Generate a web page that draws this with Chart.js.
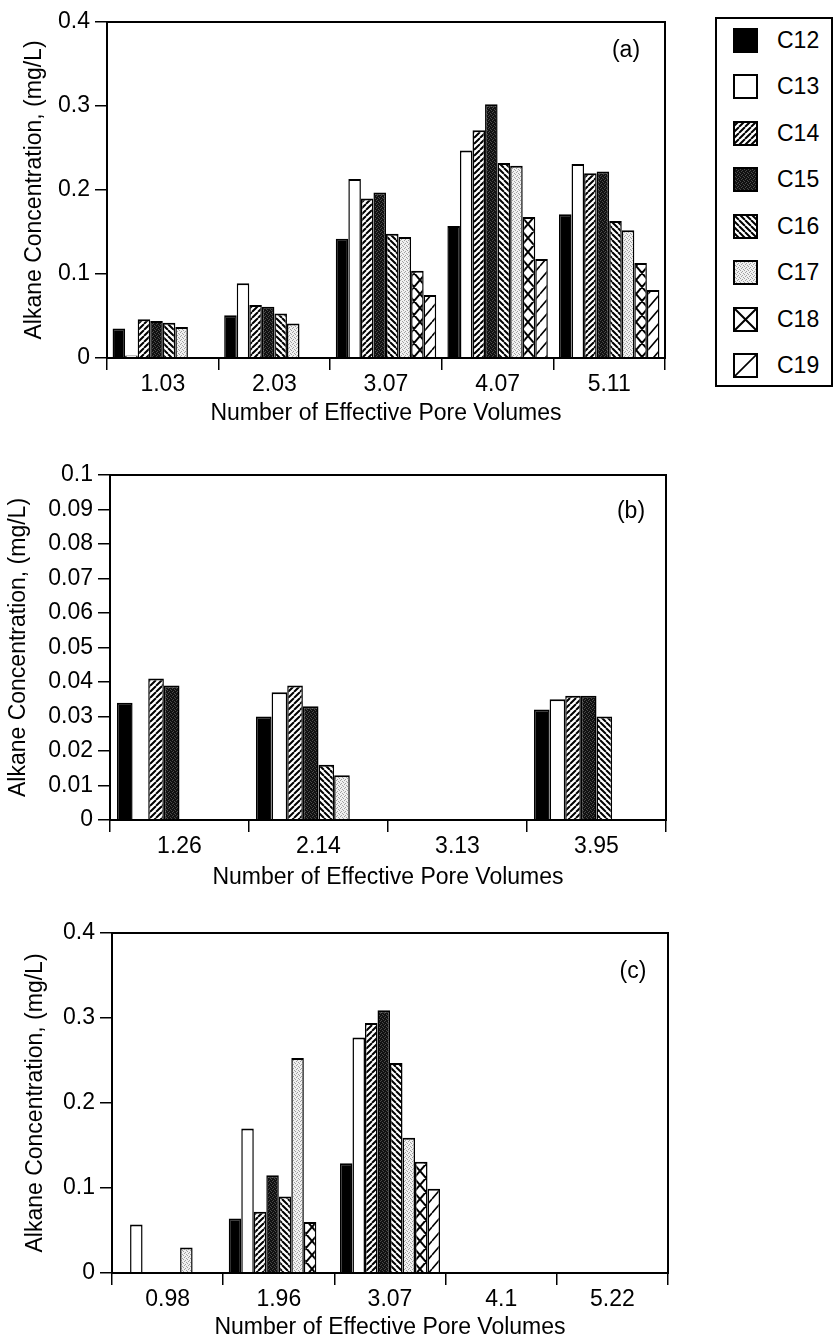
<!DOCTYPE html>
<html>
<head>
<meta charset="utf-8">
<title>Alkane concentration vs. effective pore volumes</title>
<script src="https://cdn.jsdelivr.net/npm/chart.js@4.4.1/dist/chart.umd.min.js"></script>
<style>
  html, body { margin: 0; padding: 0; background: #fff; }
  #page { position: relative; width: 836px; height: 1341px; overflow: hidden; }
  canvas.panel { position: absolute; left: 0; }
  #legend {
    position: absolute; left: 715px; top: 17px; width: 114px; height: 366px;
    border: 2px solid #000;
    font: 23px "Liberation Sans", Arial, Helvetica, sans-serif; color: #000;
  }
  #legend .item { position: absolute; left: 16px; height: 25px; width: 95px; }
  #legend .item canvas { position: absolute; left: 0; top: 0; }
  #legend .item span { position: absolute; left: 44px; top: 0; line-height: 25px; }
</style>
</head>
<body>
<div id="page">
  <canvas id="panelA" class="panel" width="690" height="431" style="top:0px"></canvas>
  <canvas id="panelB" class="panel" width="690" height="455" style="top:440px"></canvas>
  <canvas id="panelC" class="panel" width="690" height="436" style="top:905px"></canvas>
  <div id="legend"></div>
</div>
<script>
const seriesNames = ['C12', 'C13', 'C14', 'C15', 'C16', 'C17', 'C18', 'C19'];

// (a) concentrations (mg/L) at each pore volume
const poreVolumesA = ['1.03', '2.03', '3.07', '4.07', '5.11'];
const aC12 = [0.035, 0.051, 0.142, 0.157, 0.171];
const aC13 = [0.003, 0.089, 0.213, 0.247, 0.231];
const aC14 = [0.046, 0.063, 0.190, 0.271, 0.220];
const aC15 = [0.044, 0.061, 0.197, 0.302, 0.222];
const aC16 = [0.042, 0.053, 0.148, 0.232, 0.163];
const aC17 = [0.037, 0.041, 0.144, 0.229, 0.152];
const aC18 = [null, null, 0.104, 0.168, 0.113];
const aC19 = [null, null, 0.075, 0.118, 0.081];

// (b)
const poreVolumesB = ['1.26', '2.14', '3.13', '3.95'];
const bC12 = [0.034, 0.030, null, 0.032];
const bC13 = [null, 0.037, null, 0.035];
const bC14 = [0.041, 0.039, null, 0.036];
const bC15 = [0.039, 0.033, null, 0.036];
const bC16 = [null, 0.016, null, 0.030];
const bC17 = [null, 0.013, null, null];
const bC18 = [null, null, null, null];
const bC19 = [null, null, null, null];

// (c)
const poreVolumesC = ['0.98', '1.96', '3.07', '4.1', '5.22'];
const cC12 = [null, 0.064, 0.129, null, null];
const cC13 = [0.057, 0.170, 0.277, null, null];
const cC14 = [null, 0.072, 0.294, null, null];
const cC15 = [null, 0.115, 0.309, null, null];
const cC16 = [null, 0.090, 0.247, null, null];
const cC17 = [0.030, 0.253, 0.159, null, null];
const cC18 = [null, 0.060, 0.131, null, null];
const cC19 = [null, null, 0.099, null, null];

const FONT = '"Liberation Sans", Arial, Helvetica, sans-serif';
const FONT_SIZE = 23;
Chart.defaults.font.family = FONT;
Chart.defaults.font.size = FONT_SIZE;
Chart.defaults.color = '#000';

// fill style per alkane, in the order of seriesNames
const fillKinds = ['solid', 'open', 'fineUp', 'darkDots', 'fineDown', 'lightDots', 'cross', 'wideUp'];

function tile(w, h, paint) {
  const c = document.createElement('canvas');
  c.width = w; c.height = h;
  const g = c.getContext('2d');
  paint(g, w, h);
  return g.createPattern(c, 'repeat');
}

// diagonal strokes with wrap-around copies so the tile repeats cleanly
function diag(g, w, h, dir) {
  for (let k = -1; k <= 1; k++) {
    const ox = k * w;
    if (dir > 0) { g.moveTo(ox, h); g.lineTo(ox + w, 0); }
    else { g.moveTo(ox, 0); g.lineTo(ox + w, h); }
  }
}

function dots(bg, fg, pts) {
  return tile(4, 4, (g) => {
    g.fillStyle = bg; g.fillRect(0, 0, 4, 4);
    g.fillStyle = fg;
    pts.forEach(p => g.fillRect(p[0], p[1], 1, 1));
  });
}

function makeFill(kind, big) {
  switch (kind) {
    case 'solid': return '#000';
    case 'open': return '#fff';
    case 'darkDots': return dots('#111', '#4a4a4a', [[0, 0], [2, 1], [1, 3], [3, 2]]);
    case 'lightDots': return dots('#f0f0f0', '#a0a0a0', [[0, 0], [2, 1], [1, 3], [3, 2]]);
    case 'fineUp':
    case 'fineDown':
      return tile(6, 6, (g, w, h) => {
        g.fillStyle = '#fff'; g.fillRect(0, 0, w, h);
        g.strokeStyle = '#000'; g.lineWidth = 2;
        g.beginPath(); diag(g, w, h, kind === 'fineUp' ? 1 : -1); g.stroke();
      });
    case 'cross': {
      const w = big ? 25 : 12, h = big ? 25 : 14;
      return tile(w, h, (g) => {
        g.fillStyle = '#fff'; g.fillRect(0, 0, w, h);
        g.strokeStyle = '#000'; g.lineWidth = 2;
        g.beginPath(); diag(g, w, h, 1); diag(g, w, h, -1); g.stroke();
      });
    }
    case 'wideUp': {
      const w = big ? 25 : 12, h = big ? 25 : 14;
      return tile(w, h, (g) => {
        g.fillStyle = '#fff'; g.fillRect(0, 0, w, h);
        g.strokeStyle = '#000'; g.lineWidth = 1.6;
        g.beginPath(); diag(g, w, h, 1); g.stroke();
      });
    }
  }
}

const barFills = fillKinds.map(k => makeFill(k, false));

// outline of the plot box, drawn over the bars
const framePlugin = {
  id: 'frame',
  afterDatasetsDraw(chart) {
    const { ctx, chartArea: a } = chart;
    ctx.save();
    ctx.strokeStyle = '#000';
    ctx.lineWidth = 2;
    ctx.strokeRect(a.left, a.top, a.right - a.left, a.bottom - a.top);
    ctx.restore();
  }
};

// "(a)", "(b)", "(c)" tag in the upper right corner
const tagPlugin = {
  id: 'panelTag',
  afterDraw(chart, args, opts) {
    const { ctx, chartArea: a } = chart;
    ctx.save();
    ctx.font = FONT_SIZE + 'px ' + FONT;
    ctx.fillStyle = '#000';
    ctx.textAlign = 'center';
    ctx.textBaseline = 'middle';
    ctx.fillText(opts.text, a.right - opts.dx, a.top + opts.dy);
    ctx.restore();
  }
};

function makePanel(id, cfg) {
  const canvas = document.getElementById(id);
  const W = canvas.width, H = canvas.height;
  const area = cfg.area;
  const lh = FONT_SIZE * 1.2;
  return new Chart(canvas, {
    type: 'bar',
    data: {
      labels: cfg.labels,
      datasets: cfg.values.map((vals, i) => ({
        label: seriesNames[i],
        data: vals,
        backgroundColor: barFills[i],
        borderColor: '#000',
        borderWidth: { top: 2, left: 1.5, right: 1.5, bottom: 0 },
        borderSkipped: false,
        categoryPercentage: 0.9,
        barPercentage: 1
      }))
    },
    options: {
      responsive: false,
      animation: false,
      events: [],
      layout: { padding: { left: 0, top: area.top, right: W - area.right, bottom: 0 } },
      plugins: {
        legend: { display: false },
        tooltip: { enabled: false },
        panelTag: cfg.tag
      },
      scales: {
        x: {
          offset: true,
          grid: { offset: true, drawOnChartArea: false, drawTicks: true, tickLength: 12, color: '#000', lineWidth: 1.5 },
          border: { display: true, color: '#000', width: 2 },
          ticks: { padding: 1, maxRotation: 0, autoSkip: false },
          title: {
            display: true,
            text: 'Number of Effective Pore Volumes',
            padding: { top: 0, bottom: H - cfg.xTitleY - lh / 2 }
          },
          afterFit: (s) => { s.height = H - area.bottom; }
        },
        y: {
          min: 0,
          max: cfg.yMax,
          ticks: { stepSize: cfg.yStep, padding: 5, callback: (v) => String(+v.toFixed(3)) },
          grid: { drawOnChartArea: false, tickLength: 12, color: '#000', lineWidth: 1.5 },
          border: { display: true, color: '#000', width: 2 },
          title: {
            display: true,
            text: 'Alkane Concentration, (mg/L)',
            padding: { top: cfg.yTitleX - lh / 2, bottom: 0 }
          },
          afterFit: (s) => { s.width = area.left; }
        }
      }
    },
    plugins: [framePlugin, tagPlugin]
  });
}

makePanel('panelA', {
  labels: poreVolumesA,
  values: [aC12, aC13, aC14, aC15, aC16, aC17, aC18, aC19],
  yMax: 0.4, yStep: 0.1,
  area: { left: 107, top: 22, right: 665, bottom: 358 },
  xTitleY: 414, yTitleX: 35,
  tag: { text: '(a)', dx: 39, dy: 29 }
});

makePanel('panelB', {
  labels: poreVolumesB,
  values: [bC12, bC13, bC14, bC15, bC16, bC17, bC18, bC19],
  yMax: 0.1, yStep: 0.01,
  area: { left: 110, top: 35, right: 666, bottom: 380 },
  xTitleY: 438, yTitleX: 19,
  tag: { text: '(b)', dx: 35, dy: 37 }
});

makePanel('panelC', {
  labels: poreVolumesC,
  values: [cC12, cC13, cC14, cC15, cC16, cC17, cC18, cC19],
  yMax: 0.4, yStep: 0.1,
  area: { left: 112, top: 28, right: 668, bottom: 368 },
  xTitleY: 423, yTitleX: 36,
  tag: { text: '(c)', dx: 35, dy: 39 }
});

// legend column with the same fills as the bars
const legendBox = document.getElementById('legend');
seriesNames.forEach((name, i) => {
  const item = document.createElement('div');
  item.className = 'item';
  item.style.top = (8.5 + 46.5 * i) + 'px';
  const sw = document.createElement('canvas');
  sw.width = 25; sw.height = 25;
  const g = sw.getContext('2d');
  g.fillStyle = makeFill(fillKinds[i], true);
  g.fillRect(0, 0, 25, 25);
  g.strokeStyle = '#000';
  g.lineWidth = 2;
  g.strokeRect(1, 1, 23, 23);
  const label = document.createElement('span');
  label.textContent = name;
  item.appendChild(sw);
  item.appendChild(label);
  legendBox.appendChild(item);
});
</script>
</body>
</html>
